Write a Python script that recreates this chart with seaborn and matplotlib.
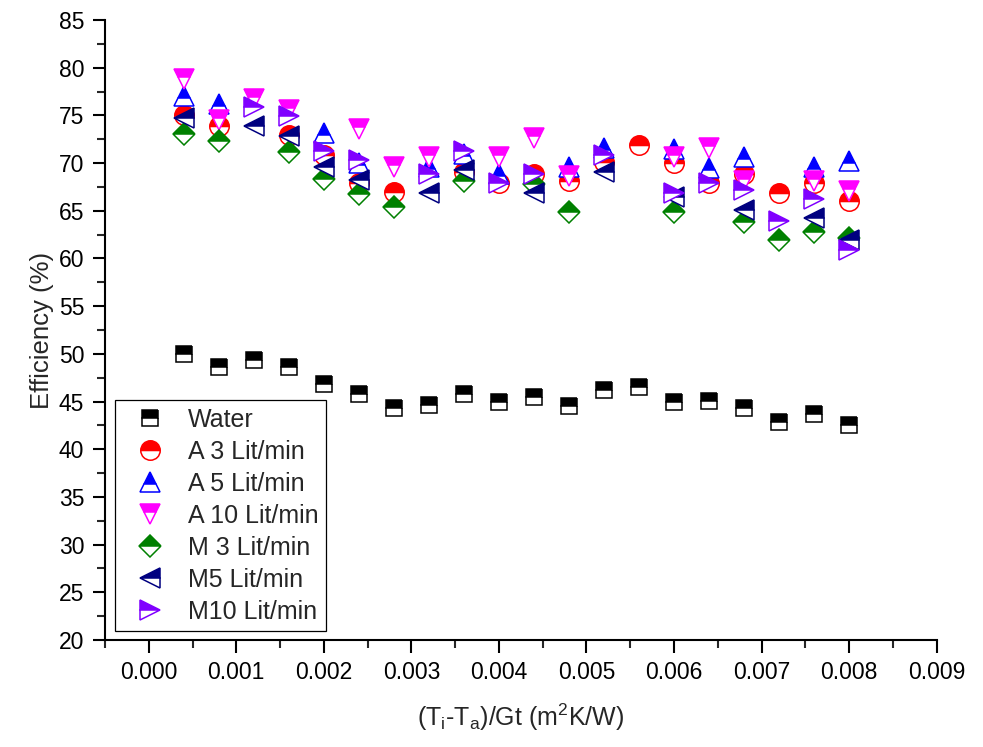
import numpy as np
import matplotlib
matplotlib.use('Agg')
import matplotlib.pyplot as plt
from matplotlib.ticker import MultipleLocator
import seaborn as sns

nan = np.nan

# x positions (Ti-Ta)/Gt
x_vals = [0.0004, 0.0008, 0.0012, 0.0016, 0.0020, 0.0024, 0.0028, 0.0032, 0.0036, 0.0040,
          0.0044, 0.0048, 0.0052, 0.0056, 0.0060, 0.0064, 0.0068, 0.0072, 0.0076, 0.0080]

water = [50.0, 48.6, 49.4, 48.6, 46.8, 45.8, 44.3, 44.6, 45.8, 45.0,
         45.5, 44.5, 46.2, 46.5, 45.0, 45.1, 44.3, 42.9, 43.7, 42.5]
a3 = [75.0, 73.9, nan, 72.9, 70.8, 67.9, 67.0, nan, 69.1, 67.9,
      68.9, 68.1, 70.1, 71.9, 70.0, 67.9, 68.9, 66.9, 67.9, 66.0]
a5 = [77.0, 76.2, nan, nan, 73.2, 70.0, nan, 69.6, 71.0, 68.9,
      nan, 69.6, 71.6, nan, 71.5, 69.5, 70.6, nan, 69.6, 70.2]
a10 = [78.8, 74.5, 76.7, 75.6, nan, 73.6, 69.6, 70.6, nan, 70.6,
       72.6, 68.6, nan, nan, 70.6, 71.6, 68.1, nan, 68.1, 67.1]
m3 = [73.1, 72.3, nan, 71.2, 68.3, 66.8, 65.4, nan, 68.1, nan,
      67.8, 64.9, nan, nan, 64.9, nan, 63.8, 61.9, 62.8, 62.1]
m5 = [74.7, nan, 73.9, 72.8, 69.6, 68.2, nan, 66.9, 69.3, nan,
      66.9, nan, 69.1, nan, 66.4, nan, 65.1, nan, 64.2, 61.9]
m10 = [nan, nan, 75.9, 74.9, 71.3, 70.3, nan, 68.9, 71.3, 67.9,
       68.9, nan, 70.9, nan, 66.9, 67.9, 67.2, 63.9, 66.2, 60.9]

series = [
    ('Water', water, 's', 'black', 11.5),
    ('A 3 Lit/min', a3, 'o', '#FF0000', 14),
    ('A 5 Lit/min', a5, '^', '#0000FF', 14),
    ('A 10 Lit/min', a10, 'v', '#FF00FF', 14),
    ('M 3 Lit/min', m3, 'D', '#008000', 11),
    ('M5 Lit/min', m5, '<', '#000080', 14),
    ('M10 Lit/min', m10, '>', '#8000FF', 14),
]

sns.set_theme(style='ticks')
plt.rcParams['font.family'] = ['Liberation Sans', 'DejaVu Sans']
plt.rcParams['mathtext.fontset'] = 'custom'
plt.rcParams['mathtext.rm'] = 'Liberation Sans'

fig = plt.figure(figsize=(9.83, 7.47), dpi=100)
ax = fig.add_axes([0.1068, 0.1432, 0.846, 0.83])

for label, y, marker, color, size in series:
    sns.lineplot(x=x_vals, y=y, ax=ax, marker=marker, linestyle='', color=color,
                 markersize=size, fillstyle='top', markerfacecoloralt='white',
                 markeredgecolor=color, markeredgewidth=1.1, label=label,
                 errorbar=None, legend=False)

ax.set_xlim(-0.0005, 0.009)
ax.set_ylim(20, 85)
ax.xaxis.set_major_locator(MultipleLocator(0.001))
ax.xaxis.set_minor_locator(MultipleLocator(0.0005))
ax.yaxis.set_major_locator(MultipleLocator(5))
ax.yaxis.set_minor_locator(MultipleLocator(2.5))
ax.xaxis.set_major_formatter(matplotlib.ticker.FormatStrFormatter('%.3f'))

for side in ['top', 'right']:
    ax.spines[side].set_visible(False)
for side in ['left', 'bottom']:
    ax.spines[side].set_linewidth(1.5)
    ax.spines[side].set_color('black')

ax.tick_params(which='major', direction='out', length=9, width=1.5, labelsize=16.5,
               colors='black', pad=6)
ax.tick_params(which='minor', direction='out', length=5.5, width=1.5)

ax.set_xlabel(r'(T$_\mathregular{i}$-T$_\mathregular{a}$)/Gt (m$^\mathregular{2}$K/W)',
              fontsize=18, labelpad=13)
ax.set_ylabel('Efficiency (%)', fontsize=18.5, labelpad=3)

ax.legend(loc='lower left', bbox_to_anchor=(0.012, 0.0145), frameon=True, fancybox=False,
          edgecolor='black', framealpha=1, fontsize=18, numpoints=1,
          handlelength=2.2, handletextpad=0.42, labelspacing=0.32, borderaxespad=0,
          borderpad=0.3)
ax.get_legend().get_frame().set_linewidth(0.9)

fig.savefig('out.png', dpi=100)
